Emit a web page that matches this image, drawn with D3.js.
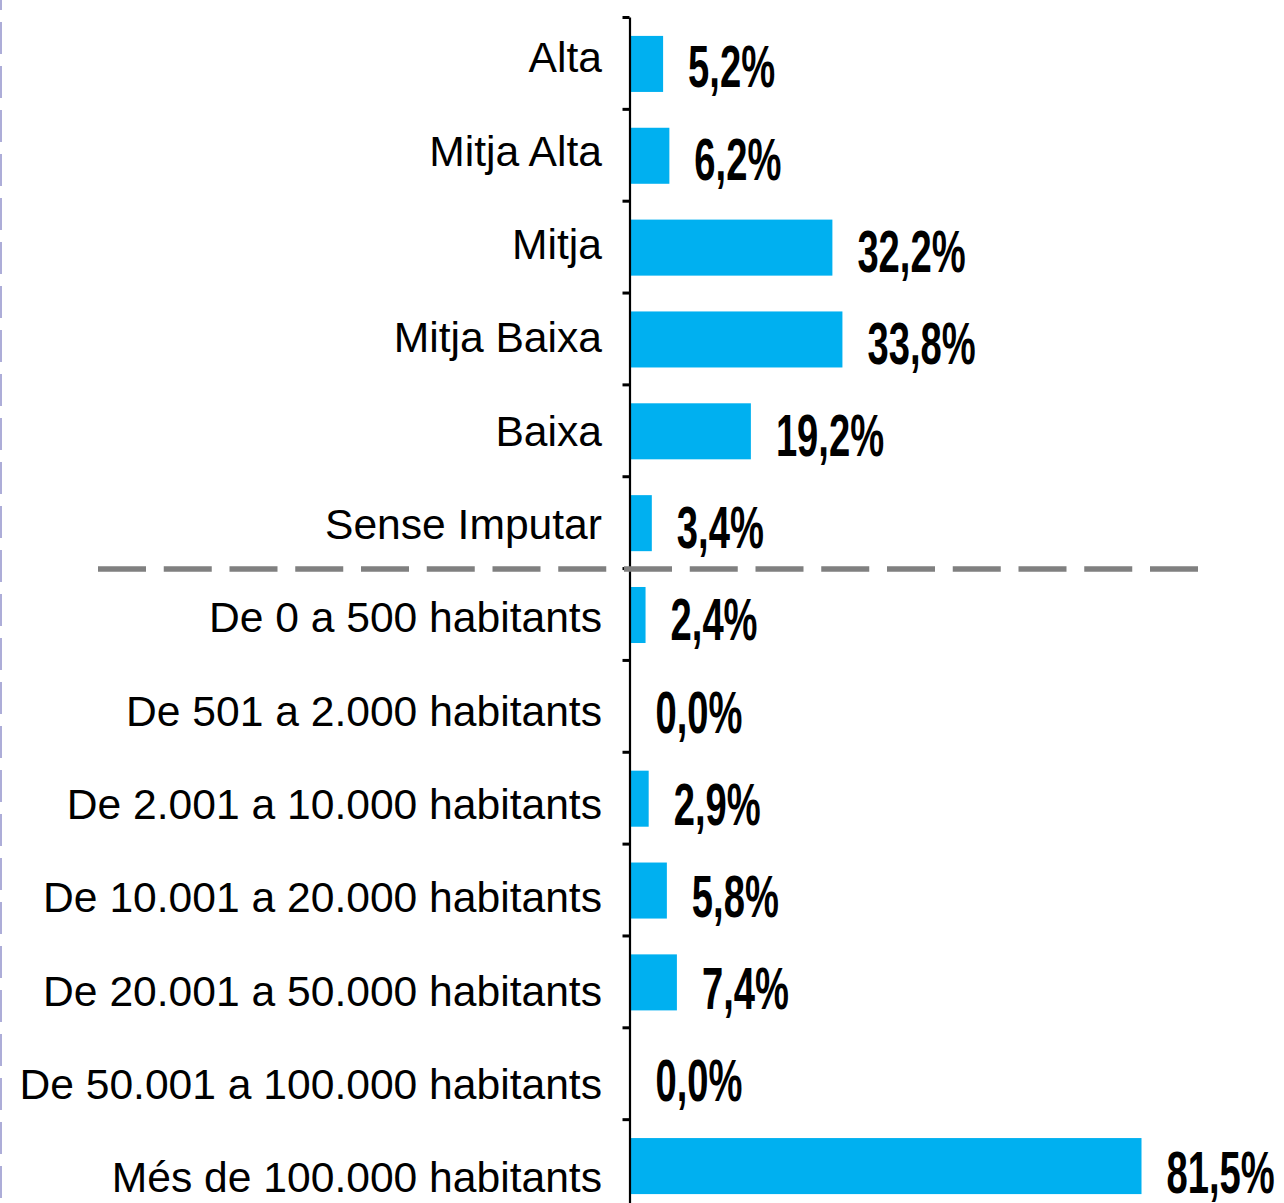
<!DOCTYPE html>
<html>
<head>
<meta charset="utf-8">
<script src="https://cdn.jsdelivr.net/npm/d3@7"></script>
<style>
	body { margin: 0; background: #fff; }
</style>
</head>
<body>
<div id="chart"></div>
<script>
// categories (top to bottom)
const grupsRenda = ["Alta", "Mitja Alta", "Mitja", "Mitja Baixa", "Baixa", "Sense Imputar"];
const grupsMunicipi = ["De 0 a 500 habitants", "De 501 a 2.000 habitants", "De 2.001 a 10.000 habitants",
	"De 10.001 a 20.000 habitants", "De 20.001 a 50.000 habitants", "De 50.001 a 100.000 habitants",
	"Més de 100.000 habitants"];

// percentages
const valorsRenda = [5.2, 6.2, 32.2, 33.8, 19.2, 3.4];
const valorsMunicipi = [2.4, 0.0, 2.9, 5.8, 7.4, 0.0, 81.5];

barChart();

function barChart() {
	const categories = grupsRenda.concat(grupsMunicipi);
	const values = valorsRenda.concat(valorsMunicipi);
	const data = categories.map((c, i) => ({cat: c, val: values[i]}));

	const width = 1284,
		  height = 1203;

	const svg = d3.select("#chart")
				  .append("svg")
				  .attr("width", width)
				  .attr("height", height);

	const x = d3.scaleLinear()
				.domain([0, 100])
				.range([630.5, 1257.5]);

	const y = d3.scaleBand()
				.domain(categories)
				.range([18, 1212])
				.paddingInner(0.39)
				.paddingOuter(0.195);

	// text rows drift a little from the bars in the original
	const yCat = d3.scalePoint().domain(categories).range([57, 1177]);
	const yVal = d3.scalePoint().domain(categories).range([66, 1172]);

	// left border (dashed purple)
	svg.append("line")
	   .attr("x1", 1)
	   .attr("x2", 1)
	   .attr("y1", 0)
	   .attr("y2", height)
	   .attr("stroke", "#adadd8")
	   .attr("stroke-width", 2)
	   .attr("stroke-dasharray", "32 12")
	   .attr("stroke-dashoffset", 22);

	// bars
	svg.append("g")
	   .selectAll("rect")
	   .data(data)
	   .enter()
	   .append("rect")
	   .attr("x", x(0))
	   .attr("y", d => y(d.cat))
	   .attr("width", d => x(d.val) - x(0))
	   .attr("height", y.bandwidth())
	   .style("fill", "#00B0F0");

	// axis with ticks between categories
	const yEdges = d3.scaleLinear()
					 .domain([0, categories.length])
					 .range([17, 17 + y.step() * categories.length]);
	const axis = svg.append("g")
					.attr("transform", `translate(${x(0) - 1},0)`)
					.call(d3.axisLeft(yEdges)
							.tickValues(d3.range(0, categories.length + 1))
							.tickFormat("")
							.tickSize(7)
							.tickSizeOuter(0));
	axis.select(".domain").attr("stroke", "#000").attr("stroke-width", 2.2);
	axis.selectAll(".tick line").attr("stroke", "#000").attr("stroke-width", 3);

	// category labels
	svg.append("g")
	   .selectAll("text")
	   .data(data)
	   .enter()
	   .append("text")
	   .attr("x", 602)
	   .attr("y", d => yCat(d.cat))
	   .attr("dy", "0.358em")
	   .attr("text-anchor", "end")
	   .style("font-family", "'Liberation Sans', Arial, sans-serif")
	   .style("font-size", "42.6px")
	   .style("fill", "#000")
	   .text(d => d.cat);

	// value labels: bold sans squeezed to a narrow face, stretched vertically
	const format = d3.format(".1f");
	svg.append("g")
	   .selectAll("text")
	   .data(data)
	   .enter()
	   .append("text")
	   .attr("transform", d => `translate(${x(d.val) + 25},${yVal(d.cat)}) scale(0.83,1.3)`)
	   .attr("dy", "0.358em")
	   .style("font-family", "'Liberation Sans', Arial, sans-serif")
	   .style("font-weight", "bold")
	   .style("font-size", "46px")
	   .style("fill", "#000")
	   .text(d => format(d.val).replace(".", ",") + "%");

	// separator between the two groups
	const ySep = y(grupsMunicipi[0]) - y.step() * y.paddingInner() / 2;
	svg.append("line")
	   .attr("x1", 98)
	   .attr("x2", 1198)
	   .attr("y1", ySep)
	   .attr("y2", ySep)
	   .attr("stroke", "#808080")
	   .attr("stroke-width", 5.5)
	   .attr("stroke-dasharray", "48 17.75");
}
</script>
</body>
</html>
